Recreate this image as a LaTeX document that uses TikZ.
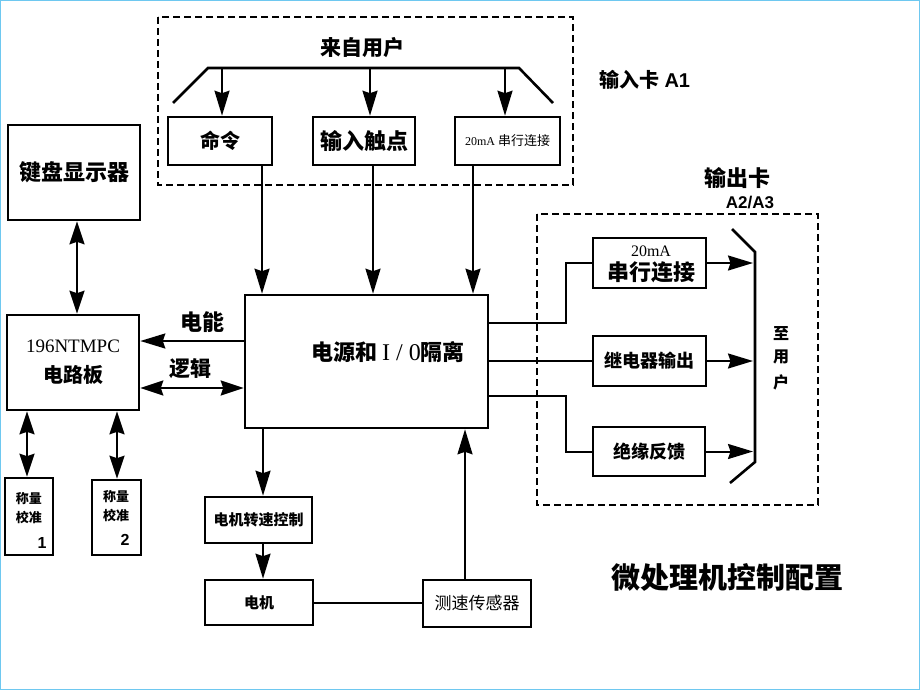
\documentclass[tikz,border=0pt]{standalone}
\usepackage{fontspec}
\setmainfont{Liberation Serif}
\newfontfamily\cjk{Noto Sans CJK SC}
\newfontfamily\hv{Liberation Sans}
\usetikzlibrary{arrows.meta}
\definecolor{frameblue}{RGB}{110,200,240}
\newcommand\fz[1]{\fontsize{#1pt}{#1pt}\selectfont}
\newcommand\zh{\cjk\bfseries}
\tikzset{
  box/.style={draw, line width=2.6pt, inner sep=0pt, align=center},
  lbl/.style={inner sep=0pt, align=center},
  wire/.style={line width=2pt},
  arr/.style={line width=2pt, -{Stealth[length=25pt,width=15pt,inset=2.5pt]}},
  darr/.style={line width=2pt, {Stealth[length=23pt,width=15pt,inset=2.5pt]}-{Stealth[length=23pt,width=15pt,inset=2.5pt]}},
  cardframe/.style={line width=2.2pt, dash pattern=on 7pt off 4pt},
}
\begin{document}
\begin{tikzpicture}[x=1pt,y=-1pt]
\useasboundingbox (0,0) rectangle (920,690);
\draw[frameblue, line width=1pt] (0.5,0.5) rectangle (919.5,689.5);

% input card
\draw[cardframe] (158,17) rectangle (573,185);
\node[lbl] (from) at (362,48) {\fz{21}\zh 来自用户};
\coordinate (tl) at (173,103);
\coordinate (tl2) at (208,68);
\coordinate (tr2) at (519,68);
\coordinate (tr) at (553,103);
\draw[line width=2.6pt] (tl) -- (tl2) -- (tr2) -- (tr);
\node[lbl] (cardA1) at (645,80) {\fz{20}\zh 输入卡 \hv\bfseries A1};

\node[box, minimum width=104pt, minimum height=48pt] (cmd) at (220,141) {\fz{20}\zh 命令};
\node[box, minimum width=102pt, minimum height=48pt] (inp) at (364,141) {\fz{22}\zh 输入触点};
\node[box, minimum width=105pt, minimum height=48pt] (ser) at (507.5,141) {\fz{12}\rmfamily 20mA \fz{13}\cjk 串行连接};

\coordinate (t1) at (222,68);
\coordinate (t2) at (370,68);
\coordinate (t3) at (505,68);
\draw[arr] (t1) -- (cmd.north -| t1);
\draw[arr] (t2) -- (inp.north -| t2);
\draw[arr] (t3) -- (ser.north -| t3);

% main block
\node[box, minimum width=243pt, minimum height=133pt] (main) at (366.5,361.5) {};
\node[lbl] (maintxt) at (388,352) {\fz{22}\zh 电源和 \fz{24}\rmfamily\mdseries I / 0\fz{22}\zh 隔离};

\coordinate (c1) at (262,0);
\coordinate (c2) at (373,0);
\coordinate (c3) at (473,0);
\draw[arr] (cmd.south -| c1) -- (main.north -| c1);
\draw[arr] (inp.south -| c2) -- (main.north -| c2);
\draw[arr] (ser.south -| c3) -- (main.north -| c3);

% left side
\node[box, minimum width=132pt, minimum height=95pt] (kbd) at (74,172.5) {\fz{22}\zh 键盘显示器};
\node[box, minimum width=132pt, minimum height=95pt] (mpc) at (73,362.5) {};
\node[lbl] (mpctxt) at (73,362) {\fz{19}\rmfamily 196NTMPC\\[12pt]\fz{20}\zh 电路板};
\coordinate (kx) at (77,0);
\draw[darr] (kbd.south -| kx) -- (mpc.north -| kx);

\coordinate (ye) at (0,341);
\coordinate (yl) at (0,388);
\draw[arr] (main.west |- ye) -- (mpc.east |- ye);
\draw[darr] (mpc.east |- yl) -- (main.west |- yl);
\node[lbl] (power) at (202,322) {\fz{22}\zh 电能};
\node[lbl] (logic) at (190,369) {\fz{21}\zh 逻辑};

\node[box, minimum width=48pt, minimum height=77pt] (cal1) at (29,516.5) {};
\node[lbl] (cal1t) at (29,508) {\fz{13}\zh 称量\\[6pt]\fz{13}\zh 校准};
\node[lbl] (cal1n) at (42,543) {\fz{16}\hv\bfseries 1};
\node[box, minimum width=49pt, minimum height=75pt] (cal2) at (116.5,517.5) {};
\node[lbl] (cal2t) at (116,506) {\fz{13}\zh 称量\\[6pt]\fz{13}\zh 校准};
\node[lbl] (cal2n) at (125,540) {\fz{16}\hv\bfseries 2};
\coordinate (k1) at (27,0);
\coordinate (k2) at (117,0);
\draw[darr] (mpc.south -| k1) -- (cal1.north -| k1);
\draw[darr] (mpc.south -| k2) -- (cal2.north -| k2);

% bottom
\node[box, minimum width=107pt, minimum height=46pt] (mctl) at (258.5,520) {\fz{15}\zh 电机转速控制};
\node[box, minimum width=108pt, minimum height=45pt] (mot) at (259,602.5) {\fz{15}\zh 电机};
\node[box, minimum width=108pt, minimum height=47pt] (sens) at (477,603.5) {\fz{17}\cjk 测速传感器};
\coordinate (m1) at (263,0);
\coordinate (m2) at (465,0);
\draw[arr] (main.south -| m1) -- (mctl.north -| m1);
\draw[arr] (mctl.south -| m1) -- (mot.north -| m1);
\draw[wire] (mot.east) -- (sens.west |- mot.east);
\draw[arr] (sens.north -| m2) -- (main.south -| m2);

% output card
\draw[cardframe] (537,214) rectangle (818,505);
\node[lbl] (outcard) at (737,178) {\fz{22}\zh 输出卡};
\node[lbl] (outA) at (750,203) {\fz{17}\hv\bfseries A2/A3};

\node[box, minimum width=113pt, minimum height=50pt] (oser) at (649.5,263) {};
\node[lbl] (osert) at (651,264) {\fz{16}\rmfamily 20mA\\[4pt]\fz{22}\zh 串行连接};
\node[box, minimum width=113pt, minimum height=50pt] (orel) at (649.5,361) {\fz{18}\zh 继电器输出};
\node[box, minimum width=112pt, minimum height=49pt] (ofb) at (649,451.5) {\fz{18}\zh 绝缘反馈};

\coordinate (y1) at (0,323);
\coordinate (y3) at (0,396);
\draw[wire] (main.east |- y1) -- ++(77,0) |- (oser.west);
\draw[wire] (main.east |- orel.west) -- (orel.west);
\draw[wire] (main.east |- y3) -- ++(77,0) |- (ofb.west);

\coordinate (bt) at (732,229);
\coordinate (bt2) at (755,252);
\coordinate (bb2) at (755,462);
\coordinate (bb) at (730,483);
\draw[line width=2.6pt] (bt) -- (bt2) -- (bb2) -- (bb);
\coordinate (bx) at (753,0);
\draw[arr] (oser.east) -- (oser.east -| bx);
\draw[arr] (orel.east) -- (orel.east -| bx);
\draw[arr] (ofb.east) -- (ofb.east -| bx);
\node[lbl] (touser) at (781,358) {\fz{16}\zh 至\\[9pt]\fz{16}\zh 用\\[9pt]\fz{16}\zh 户};

% title
\node[lbl] (title) at (727,577) {\fz{29}\zh 微处理机控制配置};
\end{tikzpicture}
\end{document}
